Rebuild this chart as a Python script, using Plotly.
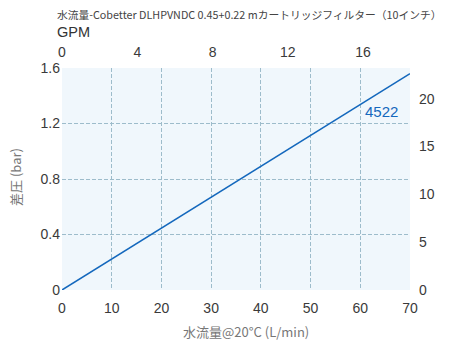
import plotly.graph_objects as go

# data
flow_lpm = [0, 70]
dp_bar = [0, 1.56]
series_name = "4522"
LPM_PER_GPM = 3.78541
PSI_PER_BAR = 14.5038

x_ticks = [0, 10, 20, 30, 40, 50, 60, 70]
y_ticks = [0, 0.4, 0.8, 1.2, 1.6]
y_tick_text = ["0", "0.4", "0.8", "1.2", "1.6"]
gpm_ticks = [0, 4, 8, 12, 16]
psi_ticks = [0, 5, 10, 15, 20]

font_fam = "Noto Sans CJK JP, Noto Sans, sans-serif"
tick_font = dict(family="Liberation Sans, Arial, sans-serif", size=14, color="#3a3a3a")
grid_col = "#9dbccb"

L, R, T, B = 62, 40, 68, 65
W, H = 450, 355

fig = go.Figure()
fig.add_trace(go.Scatter(x=flow_lpm, y=dp_bar, mode="lines",
                         line=dict(color="#1468bd", width=1.5),
                         name=series_name, showlegend=False, hoverinfo="skip"))
fig.add_trace(go.Scatter(x=[v / LPM_PER_GPM for v in flow_lpm],
                         y=[v * PSI_PER_BAR for v in dp_bar],
                         xaxis="x2", yaxis="y2", mode="lines",
                         line=dict(color="rgba(0,0,0,0)", width=0),
                         showlegend=False, hoverinfo="skip"))

fig.add_annotation(x=64.2, y=1.283, xref="x", yref="y", text=series_name,
                   showarrow=False, font=dict(family=tick_font["family"], size=15, color="#1468bd"))
# title, GPM label and axis titles (positions in pixels, converted below)
fig.add_annotation(x=55, y=14, xref="paper", yref="paper", xanchor="left", yanchor="middle",
                   text="水流量-Cobetter DLHPVNDC 0.45+0.22 mカートリッジフィルター（10インチ）",
                   showarrow=False, font=dict(family=font_fam, size=10.75, color="#444"))
fig.add_annotation(x=55, y=31.5, xref="paper", yref="paper", xanchor="left", yanchor="middle",
                   text="GPM", showarrow=False,
                   font=dict(family=tick_font["family"], size=14.5, color="#333"))
fig.add_annotation(x=246, y=331, xref="paper", yref="paper", xanchor="center", yanchor="middle",
                   text="水流量@20°C (L/min)", showarrow=False,
                   font=dict(family=font_fam, size=13, color="#777"))
fig.add_annotation(x=15, y=177, xref="paper", yref="paper", xanchor="center", yanchor="middle",
                   text="差圧 (bar)", textangle=-90, showarrow=False,
                   font=dict(family=font_fam, size=13, color="#777"))

for a in fig.layout.annotations[1:]:
    px, py = a.x, a.y
    a.x = (px - L) / (W - L - R)
    a.y = 1 - (py - T) / (H - T - B)

fig.update_layout(
    width=W, height=H,
    margin=dict(l=L, r=R, t=T, b=B, autoexpand=False),
    paper_bgcolor="white", plot_bgcolor="#f0f7fc",
    xaxis=dict(range=[0, 70], tickvals=x_ticks, showgrid=True, gridcolor=grid_col,
               griddash="4px,2px", gridwidth=1, zeroline=False, showline=False,
               tickfont=tick_font, ticks="", automargin=False, ticklabelstandoff=8),
    yaxis=dict(range=[0, 1.6], tickvals=y_ticks, ticktext=y_tick_text,
               showgrid=True, gridcolor=grid_col, griddash="4px,2px", gridwidth=1,
               zeroline=False, showline=False, tickfont=tick_font, ticks="",
               automargin=False, ticklabelstandoff=1),
    xaxis2=dict(range=[0, 70 / LPM_PER_GPM], tickvals=gpm_ticks, overlaying="x", side="top",
                showgrid=False, zeroline=False, showline=False, tickfont=tick_font, ticks="",
                automargin=False, ticklabelstandoff=7),
    yaxis2=dict(range=[0, 1.6 * PSI_PER_BAR], tickvals=psi_ticks, overlaying="y", side="right",
                showgrid=False, zeroline=False, showline=False, tickfont=tick_font, ticks="",
                automargin=False, ticklabelstandoff=8),
)

fig.write_html("out.html", config={"displayModeBar": False},
               post_script="document.body.style.margin='0';")
